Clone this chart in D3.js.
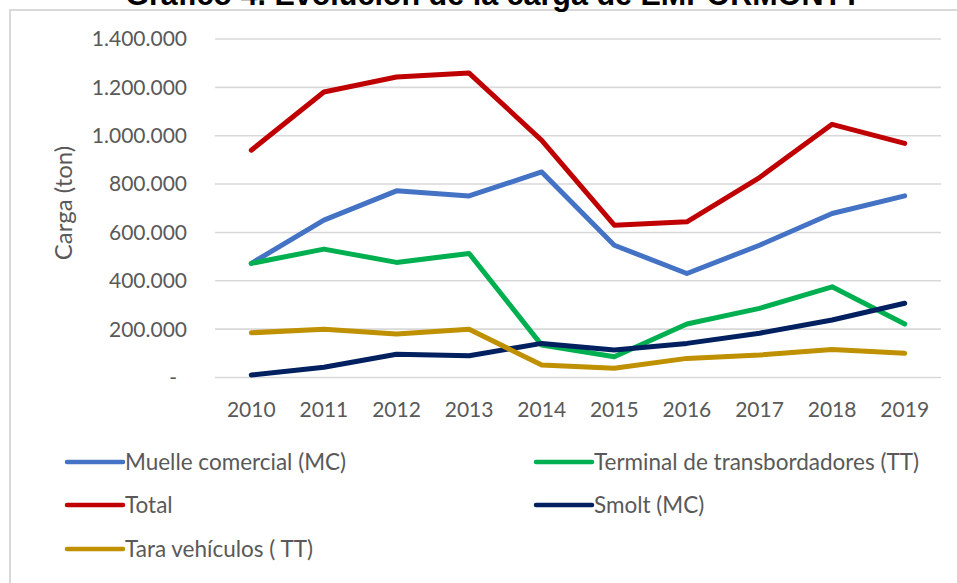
<!DOCTYPE html>
<html>
<head>
<meta charset="utf-8">
<script src="https://cdn.jsdelivr.net/npm/d3@7"></script>
<style>
  html, body { margin: 0; padding: 0; background: #fff; }
  svg { display: block; }
</style>
</head>
<body>
<svg id="chart" width="957" height="583"></svg>
<script>
const title = "Gráfico 4. Evolución de la carga de EMPORMONTT";
const yAxisTitle = "Carga (ton)";
const years = ["2010","2011","2012","2013","2014","2015","2016","2017","2018","2019"];
const yTicks = [0, 200000, 400000, 600000, 800000, 1000000, 1200000, 1400000];

const muelleComercial = [470000, 649000, 770000, 749000, 848000, 545000, 428000, 545000, 676000, 749000];
const terminalTransbordadores = [470000, 529000, 474000, 511000, 132000, 84000, 219000, 284000, 373000, 219000];
const total = [938000, 1179000, 1241000, 1257000, 979000, 628000, 642000, 825000, 1045000, 966000];
const smolt = [8000, 40000, 94000, 88000, 139000, 112000, 139000, 181000, 236000, 305000];
const taraVehiculos = [183000, 197000, 178000, 197000, 50000, 36000, 77000, 91000, 114000, 98000];

const seriesNames = ["Muelle comercial (MC)", "Terminal de transbordadores (TT)", "Total", "Smolt (MC)", "Tara vehículos ( TT)"];
const seriesValues = [muelleComercial, terminalTransbordadores, total, smolt, taraVehiculos];
const seriesColors = ["#4472C4", "#00B050", "#C00000", "#002060", "#BF9000"];
const series = seriesNames.map((n, i) => ({name: n, values: seriesValues[i], color: seriesColors[i]}));

const svg = d3.select("#chart");
const font = "Lato, 'Open Sans', sans-serif";
const textColor = "#595959";
const gridColor = "#d9d9d9";

// chart frame
svg.append("rect")
  .attr("x", 10).attr("y", 10).attr("width", 960).attr("height", 600)
  .attr("fill", "none").attr("stroke", gridColor).attr("stroke-width", 2);

// title (cut off at top, as in the reference)
svg.append("text")
  .attr("x", 493).attr("y", 5)
  .attr("text-anchor", "middle")
  .attr("font-family", "'Liberation Sans', Arial, sans-serif")
  .attr("font-weight", "bold")
  .attr("font-size", 30.5)
  .attr("fill", "#000")
  .text(title);

const plot = {left: 215, right: 941, top: 38.5, bottom: 377};

const x = d3.scaleBand().domain(years).range([plot.left, plot.right]);
const y = d3.scaleLinear().domain([0, 1400000]).range([plot.bottom, plot.top]);

const locale = d3.formatLocale({decimal: ",", thousands: ".", grouping: [3], currency: ["$", ""]});
const fmt = locale.format(",.0f");

// gridlines
const grid = svg.append("g")
  .attr("transform", `translate(${plot.left},0)`)
  .call(d3.axisLeft(y).tickValues(yTicks).tickSize(-(plot.right - plot.left)).tickFormat(""));
grid.select(".domain").remove();
grid.selectAll(".tick line").attr("stroke", gridColor).attr("stroke-width", 1.6);

// y tick labels
const yAx = svg.append("g")
  .attr("transform", `translate(187,0)`)
  .call(d3.axisLeft(y).tickValues(yTicks).tickSize(0).tickPadding(0)
    .tickFormat(d => d === 0 ? "-" : fmt(d)));
yAx.select(".domain").remove();
yAx.selectAll(".tick text")
  .attr("font-family", font).attr("font-size", 21).attr("fill", textColor)
  .attr("dy", "0.35em")
  .attr("dx", d => d === 0 ? -10 : 0);

// x tick labels
const xAx = svg.append("g")
  .attr("transform", `translate(0,${plot.bottom})`)
  .call(d3.axisBottom(x).tickSize(0).tickPadding(0));
xAx.select(".domain").remove();
xAx.selectAll(".tick text")
  .attr("font-family", font).attr("font-size", 21).attr("fill", textColor)
  .attr("dy", "0").attr("y", 40);

// y-axis title
svg.append("text")
  .attr("transform", "translate(72,203) rotate(-90)")
  .attr("text-anchor", "middle")
  .attr("font-family", font).attr("font-size", 24).attr("fill", textColor)
  .text(yAxisTitle);

// lines
const line = d3.line()
  .x((d, i) => x(years[i]) + x.bandwidth() / 2)
  .y(d => y(d));

svg.append("g").selectAll("path")
  .data(series)
  .join("path")
  .attr("d", d => line(d.values))
  .attr("fill", "none")
  .attr("stroke", d => d.color)
  .attr("stroke-width", 5)
  .attr("stroke-linejoin", "round")
  .attr("stroke-linecap", "round");

// legend
const legendPos = [[67, 462], [536, 462], [67, 505], [536, 505], [67, 549]];
const lg = svg.append("g").selectAll("g")
  .data(series)
  .join("g")
  .attr("transform", (d, i) => `translate(${legendPos[i][0]},${legendPos[i][1]})`);
lg.append("line")
  .attr("x1", 0).attr("x2", 56).attr("y1", 0).attr("y2", 0)
  .attr("stroke", d => d.color).attr("stroke-width", 4.5).attr("stroke-linecap", "round");
lg.append("text")
  .attr("x", 58).attr("y", 0).attr("dy", "0.35em")
  .attr("font-family", font).attr("font-size", 22.5).attr("fill", textColor)
  .text(d => d.name);
</script>
</body>
</html>
